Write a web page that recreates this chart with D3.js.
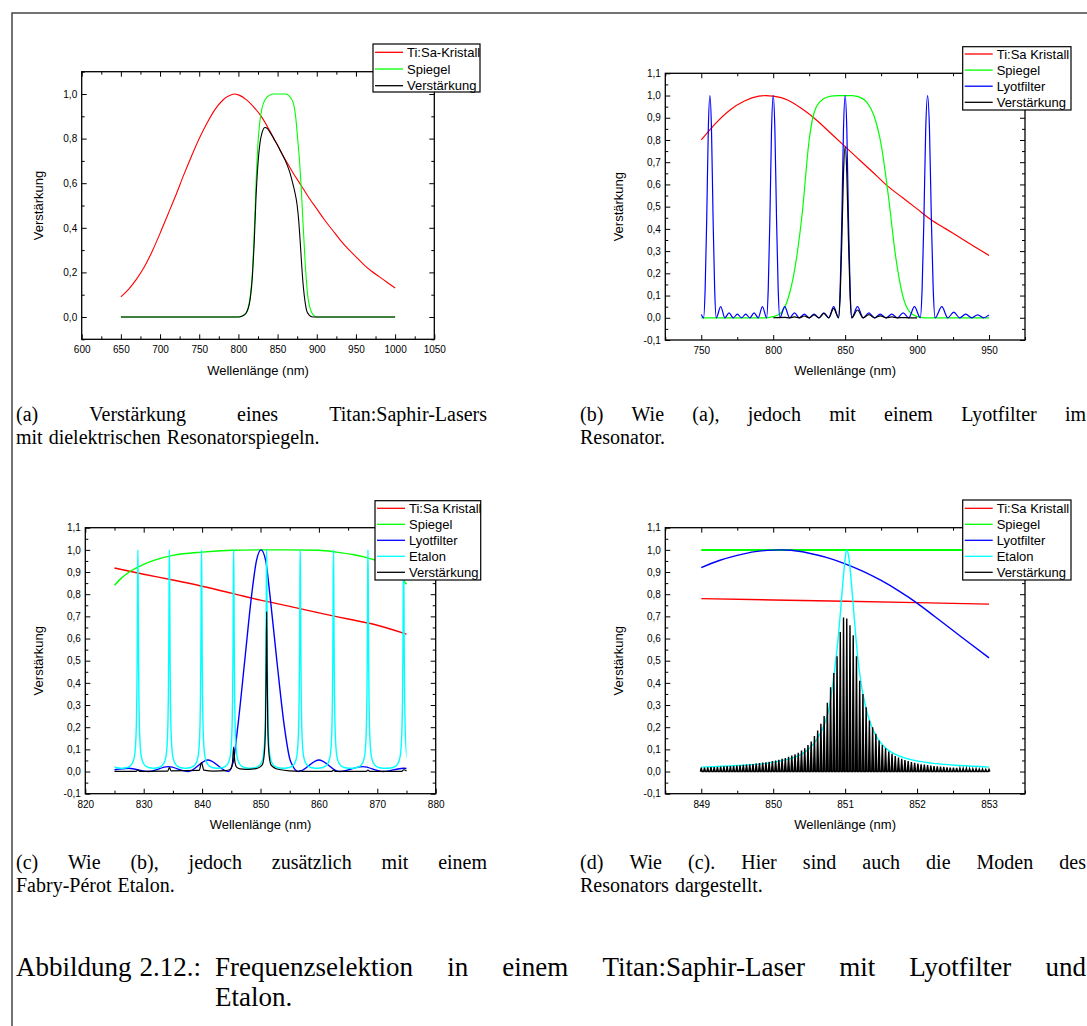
<!DOCTYPE html>
<html>
<head>
<meta charset="utf-8">
<script src="https://cdn.jsdelivr.net/npm/d3@7"></script>
<style>
body { margin: 0; background: #fff; }
svg { display: block; }
.ax text { font-family: "Liberation Sans", Arial, sans-serif; font-size: 10px; fill: #000; }
.ax line { stroke: #000; stroke-width: 1; }
.lab { font-family: "Liberation Sans", Arial, sans-serif; font-size: 13px; fill: #000; }
.leg text { font-family: "Liberation Sans", Arial, sans-serif; font-size: 13px; fill: #000; }
.cap text { font-family: "Liberation Serif", "Times New Roman", serif; fill: #000; }
</style>
</head>
<body>
<svg id="fig"></svg>
<script>
// ---- panel (a): wavelength (nm), value
const aTisa = [[650,.09],[660,.125],[670,.17],[680,.225],[690,.295],[700,.375],[710,.46],[720,.545],[730,.635],[740,.72],[750,.80],[760,.87],[770,.93],[780,.972],[790,.995],[795,1],[800,.996],[810,.975],[820,.94],[830,.895],[840,.835],[850,.77],[860,.705],[870,.645],[880,.59],[890,.535],[900,.485],[910,.435],[920,.39],[930,.345],[940,.305],[950,.27],[960,.235],[970,.205],[980,.18],[990,.155],[1000,.13]]
const aMirror = [[650,0],[800,0],[805,.005],[810,.02],[815,.09],[818,.21],[820,.36],[822.5,.6],[825,.78],[827.5,.88],[830,.935],[835,.98],[840,.995],[845,1],[860,1],[865,.99],[870,.96],[873,.9],[875.6,.8],[878,.7],[880,.59],[882.8,.4],[886,.2],[889,.08],[893.5,.02],[897,.005],[900,0],[1000,0]]
const aGain = [[650,0],[800,0],[805,.004],[810,.018],[815,.08],[818,.19],[820,.32],[822.5,.54],[825,.69],[827.5,.78],[830,.825],[834,.85],[837,.845],[840,.83],[845,.80],[850,.77],[855,.735],[860,.70],[865,.655],[870,.59],[872,.56],[875,.5],[877,.43],[879,.33],[881,.22],[883,.13],[885,.07],[887,.03],[890,.01],[895,0],[1000,0]]

// ---- panel (b)
const bTisa = [[750,.80],[760,.875],[770,.935],[780,.975],[790,.997],[795,1],[800,.997],[810,.98],[820,.94],[830,.89],[840,.83],[850,.77],[860,.71],[870,.65],[880,.59],[890,.54],[900,.49],[910,.44],[920,.40],[930,.36],[940,.32],[950,.28]]
const bMirror = [[750,0],[795,0],[800,.005],[805,.02],[810,.08],[815,.22],[820,.46],[825,.8],[827.5,.9],[830,.95],[835,.985],[840,.997],[845,1],[855,1],[860,.993],[865,.97],[870,.91],[875,.78],[880,.55],[885,.28],[890,.1],[895,.025],[900,.005],[905,0],[950,0]]
const bLyot = [[750,.015],[751.6,0],[752.7,.13],[753.8,.45],[754.9,.85],[756,1],[757.1,.85],[758.2,.45],[759.3,.13],[760.4,0],
  [763.5,.05],[766.4,0],[769.3,.022],[772.2,0],[775.1,.016],[778,0],[780.9,.016],[783.8,0],[786.7,.022],[789.6,0],[792.5,.05],[795.4,0],
  [796.55,.13],[797.7,.45],[798.85,.85],[800,1],[801.15,.85],[802.3,.45],[803.45,.13],[804.6,0],
  [808,.05],[811.4,0],[814.8,.022],[818.2,0],[821.6,.016],[825,0],[828.4,.016],[831.8,0],[835.2,.022],[838.6,0],[842,.05],[845.4,0],
  [846.55,.13],[847.7,.45],[848.85,.85],[850,1],[851.15,.85],[852.3,.45],[853.45,.13],[854.6,0],
  [858.6,.05],[862.5,0],[866.5,.022],[870.5,0],[874.4,.016],[878.4,0],[882.4,.016],[886.3,0],[890.3,.022],[894.2,0],[898.2,.05],[902.2,0],
  [903.5,.13],[904.75,.45],[906,.85],[907.3,1],[908.6,.85],[909.9,.45],[911.2,.13],[912.5,0],
  [917.2,.05],[921.3,0],[925.5,.025],[929.6,0],[933.8,.016],[938,0],[942.1,.013],[946.2,0],[950,.013]]
const bGain = [[800,0],[808,.002],[811.4,0],[814.8,.004],[818.2,0],[821.6,.008],[825,0],[828.4,.013],[831.8,0],[835.2,.02],[838.6,0],[842,.042],[845.4,0],
  [846.55,.1],[847.7,.35],[848.85,.65],[850,.77],[851.15,.65],[852.3,.35],[853.45,.1],[854.6,0],
  [858.6,.035],[862.5,0],[866.5,.014],[870.5,0],[874.4,.009],[878.4,0],[882.4,.004],[886.3,0],[890.3,.001],[894.2,0],[900,0]]

// ---- panel (c)
const cTisa = [[825,.918],[830,.89],[835,.864],[840,.836],[845,.805],[850,.773],[855,.745],[860,.716],[865,.688],[870,.66],[875,.62]]
const cMirror = [[825,.84],[826,.868],[827,.89],[828,.908],[830,.935],[832,.955],[835,.975],[840,.99],[845,.998],[850,1],[855,1],[860,.998],[863,.99],[866,.978],[868,.966],[870,.95],[872,.925],[873.5,.895],[875,.845]]
const cLyot = [[825,.008],[827.4,.015],[830.8,0],[834.2,.022],[837.6,0],[841,.052],[844.5,0],[845.3,.04],[846.1,.2],[847.3,.5],[848.5,.8],[849.3,.95],[850.1,1],[850.9,.95],[851.6,.8],[852.8,.5],[854.1,.2],[855.1,.05],[856.5,0],[860,.052],[863.5,0],[867.5,.022],[871,0],[874.5,.015],[875,.014]]
const cEtalonCentres = [823.4, 829.0, 834.4, 839.9, 845.4, 851.05, 856.8, 862.5, 868.4, 874.5, 880.4]
const cEtalonShape = [[-2.6,.015],[-2,.017],[-1.5,.022],[-1,.035],[-.7,.055],[-.5,.085],[-.35,.14],[-.25,.22],[-.18,.33],[-.12,.5],[-.08,.7],[-.04,.9],[0,1],[.04,.9],[.08,.7],[.12,.5],[.18,.33],[.25,.22],[.35,.14],[.5,.085],[.7,.055],[1,.035],[1.5,.022],[2,.017],[2.6,.015]]
const cGain = [[825,.001],[828.7,.001],[829,.008],[829.3,.001],[834.1,.002],[834.4,.018],[834.7,.003],[839.5,.005],[839.9,.04],[840.3,.006],[842,.002],[844,.004],[844.9,.012],[845.2,.04],[845.4,.11],[845.6,.045],[845.9,.02],[846.5,.012],[847.5,.01],[848.5,.011],[849.5,.015],[850.3,.03],[850.65,.08],[850.85,.2],[850.97,.48],[851.05,.72],[851.13,.48],[851.25,.2],[851.45,.08],[851.8,.03],[852.5,.015],[853.5,.008],[855,.003],[856.5,.001],[856.8,.004],[857.1,.001],[862.2,.001],[862.5,.006],[862.8,.001],[868.1,.001],[868.4,.006],[868.7,.001],[874.2,.001],[874.5,.008],[875,.002]]

// ---- panel (d)
const dTisa = [[849,.78],[850,.774],[851,.768],[852,.762],[853,.755]]
const dMirror = [[849,.999],[853,.999]]
const dLyot = [[849,.92],[849.25,.952],[849.5,.975],[849.75,.992],[850,.999],[850.1,1],[850.25,.998],[850.5,.985],[850.75,.965],[851,.937],[851.25,.903],[851.5,.862],[851.75,.814],[852,.76],[852.25,.698],[852.5,.636],[852.75,.574],[853,.513]]
const dEtalon = [[849,.02],[849.5,.027],[849.9,.037],[850.1,.048],[850.3,.065],[850.45,.09],[850.55,.12],[850.65,.17],[850.72,.22],[850.78,.29],[850.83,.4],[850.88,.53],[850.93,.7],[850.97,.86],[851,.96],[851.02,1],[851.05,.97],[851.09,.84],[851.13,.68],[851.17,.53],[851.22,.4],[851.28,.3],[851.36,.21],[851.45,.15],[851.55,.11],[851.7,.077],[851.9,.055],[852.2,.038],[852.6,.027],[853,.02]]
const dModeFirst = 849.0
const dModeSpacing = 0.04494
const dModeHeights = [.018,.018,.019,.020,.020,.021,.022,.023,.024,.025,.026,.027,.028,.030,.031,.032,.034,.036,.038,.040,.042,.044,.047,.050,.053,.057,.061,.066,.072,.078,.085,.095,.105,.12,.135,.16,.185,.215,.25,.31,.38,.445,.52,.63,.695,
  .69,.66,.615,.52,.41,.35,.29,.23,.2,.17,.14,.12,.105,.09,.08,.07,.063,.057,.052,.047,.043,.039,.036,.033,.031,.029,.027,.025,.023,.022,.021,.019,.018,.017,.016,.015,.014,.014,.013,.012,.012,.011,.011,.010,.010]

// ---- axis ticks
const aXTicks = [600,650,700,750,800,850,900,950,1000,1050]
const aXMinor = [625,675,725,775,825,875,925,975,1025]
const aYTicks = [0,.2,.4,.6,.8,1]
const aYMinor = [-.1,.1,.3,.5,.7,.9,1.1]
const bXTicks = [750,800,850,900,950]
const bXMinor = [725,775,825,875,925,975]
const yTicks11 = [-.1,0,.1,.2,.3,.4,.5,.6,.7,.8,.9,1,1.1]
const yMinor11 = [-.05,.05,.15,.25,.35,.45,.55,.65,.75,.85,.95,1.05]
const cXTicks = [820,830,840,850,860,870,880]
const cXMinor = [825,835,845,855,865,875]
const dXTicks = [849,850,851,852,853]
const dXMinor = [848.5,849.5,850.5,851.5,852.5,853.5]

const names4 = ["Ti:Sa Kristall", "Spiegel", "Lyotfilter", "Verstärkung"]
const names5 = ["Ti:Sa Kristall", "Spiegel", "Lyotfilter", "Etalon", "Verstärkung"]

const captions = {
  a: ["(a) Verstärkung eines Titan:Saphir-Lasers", "mit dielektrischen Resonatorspiegeln."],
  b: ["(b) Wie (a), jedoch mit einem Lyotfilter im", "Resonator."],
  c: ["(c) Wie (b), jedoch zusätzlich mit einem", "Fabry-Pérot Etalon."],
  d: ["(d) Wie (c). Hier sind auch die Moden des", "Resonators dargestellt."]
}
const mainLabel = "Abbildung 2.12.:"
const mainBody = ["Frequenzselektion in einem Titan:Saphir-Laser mit Lyotfilter und", "Etalon."]

const W = 1087, H = 1026
const svg = d3.select("#fig").attr("width", W).attr("height", H)
const loc = d3.formatLocale({decimal: ",", thousands: ".", grouping: [3], currency: ["", ""], minus: "-"})
const f1 = loc.format(".1f")

// page border (top and left rule)
svg.append("path").attr("d", "M12,1026V13H1087").attr("fill", "none").attr("stroke", "#444").attr("stroke-width", 1.5)

function panel(p) {
  const x = d3.scaleLinear().domain(p.xDomain).range([p.left, p.right])
  const y = d3.scaleLinear().domain([-0.1, 1.1]).range([p.bottom, p.top])
  const g = svg.append("g")

  const clipId = "clip" + p.id
  g.append("clipPath").attr("id", clipId).append("rect")
    .attr("x", p.left).attr("y", p.top).attr("width", p.right - p.left).attr("height", p.bottom - p.top)

  const line = d3.line().x(d => x(d[0])).y(d => y(d[1])).curve(d3.curveMonotoneX)
  const plot = g.append("g").attr("clip-path", `url(#${clipId})`)
  p.series.forEach(s => {
    if (!s.data.length) return
    const path = plot.append("path")
      .attr("d", s.curve === "linear" ? d3.line().x(d => x(d[0])).y(d => y(d[1]))(s.data) : line(s.data))
      .attr("fill", "none").attr("stroke", s.color).attr("stroke-width", s.width || p.lw)
      .attr("stroke-linejoin", "round")
    if (s.clip) {
      const cid = clipId + "e"
      g.append("clipPath").attr("id", cid).append("rect")
        .attr("x", x(s.clip[0])).attr("y", p.top).attr("width", x(s.clip[1]) - x(s.clip[0])).attr("height", p.bottom - p.top)
      path.attr("clip-path", `url(#${cid})`)
    }
  })

  // axes with inward ticks
  const bot = d3.axisBottom(x).tickValues(p.xTicks).tickSize(-5).tickPadding(7).tickFormat(d3.format("d"))
  const botMin = d3.axisBottom(x).tickValues(p.xMinor).tickSize(-3).tickFormat("")
  const top = d3.axisTop(x).tickValues(p.xTicks).tickSize(-5).tickFormat("")
  const topMin = d3.axisTop(x).tickValues(p.xMinor).tickSize(-3).tickFormat("")
  const lef = d3.axisLeft(y).tickValues(p.yTicks).tickSize(-5).tickPadding(4.5).tickFormat(f1)
  const lefMin = d3.axisLeft(y).tickValues(p.yMinor).tickSize(-3).tickFormat("")
  const rig = d3.axisRight(y).tickValues(p.yTicks).tickSize(-5).tickFormat("")
  const rigMin = d3.axisRight(y).tickValues(p.yMinor).tickSize(-3).tickFormat("")
  const axes = [[bot, 0, p.bottom], [botMin, 0, p.bottom], [top, 0, p.top], [topMin, 0, p.top],
    [lef, p.left, 0], [lefMin, p.left, 0], [rig, p.right, 0], [rigMin, p.right, 0]]
  axes.forEach(([ax, tx, ty]) => {
    const a = g.append("g").attr("class", "ax").attr("transform", `translate(${tx},${ty})`).call(ax)
    a.select(".domain").remove()
    a.selectAll("text").attr("font-family", null).attr("font-size", null)
  })

  g.append("rect").attr("x", p.left).attr("y", p.top).attr("width", p.right - p.left).attr("height", p.bottom - p.top)
    .attr("fill", "none").attr("stroke", "#000").attr("stroke-width", 1.3)

  g.append("text").attr("class", "lab").attr("x", (p.left + p.right) / 2).attr("y", p.xLabY)
    .attr("text-anchor", "middle").text("Wellenlänge (nm)")
  g.append("text").attr("class", "lab").attr("transform", `translate(${p.yLabX},${(p.top + p.bottom) / 2}) rotate(-90)`)
    .attr("text-anchor", "middle").attr("dy", "0.35em").text("Verstärkung")

  // legend
  const L = p.legend
  const lg = g.append("g").attr("class", "leg")
  lg.append("rect").attr("x", L.x0).attr("y", L.y0).attr("width", L.x1 - L.x0).attr("height", L.y1 - L.y0)
    .attr("fill", "#fff").attr("stroke", "#000").attr("stroke-width", 1.2)
  p.series.forEach((s, i) => {
    const yy = L.row0 + i * L.step
    lg.append("line").attr("x1", L.x0 + 2).attr("x2", L.x0 + 30).attr("y1", yy).attr("y2", yy)
      .attr("stroke", s.color).attr("stroke-width", 1.3)
    lg.append("text").attr("x", L.x0 + 34).attr("y", yy + 4.6).text(s.name)
  })
  return {x, y, plot}
}

panel({
  id: "a", xDomain: [600, 1050], left: 81.7, right: 434.3, top: 71.7, bottom: 339.3, lw: 1.1,
  xTicks: aXTicks, xMinor: aXMinor, yTicks: aYTicks, yMinor: aYMinor, xLabY: 374.5, yLabX: 38,
  legend: {x0: 373, y0: 44, x1: 480, y1: 92, row0: 52.3, step: 16.7},
  series: [
    {name: "Ti:Sa-Kristall", color: "#ff0000", data: aTisa},
    {name: "Spiegel", color: "#00ff00", data: aMirror},
    {name: "Verstärkung", color: "#000000", data: aGain}
  ]
})

panel({
  id: "b", xDomain: [725, 975], left: 665.3, right: 1025, top: 73.3, bottom: 340, lw: 1.2,
  xTicks: bXTicks, xMinor: bXMinor, yTicks: yTicks11, yMinor: yMinor11, xLabY: 374.5, yLabX: 618,
  legend: {x0: 962.7, y0: 46.7, x1: 1071, y1: 110, row0: 54, step: 16.1},
  series: [
    {name: names4[0], color: "#ff0000", data: bTisa},
    {name: names4[1], color: "#00ff00", data: bMirror},
    {name: names4[2], color: "#0000ff", data: bLyot},
    {name: names4[3], color: "#000000", data: bGain}
  ]
})

const cEtalon = cEtalonCentres.flatMap(c => cEtalonShape.map(([o, v]) => [c + o, v]))
panel({
  id: "c", xDomain: [820, 880], left: 85.3, right: 435.7, top: 527.7, bottom: 793.7, lw: 1.4,
  xTicks: cXTicks, xMinor: cXMinor, yTicks: yTicks11, yMinor: yMinor11, xLabY: 828.5, yLabX: 38,
  legend: {x0: 375, y0: 500.7, x1: 480.7, y1: 580, row0: 508.3, step: 16},
  series: [
    {name: names5[0], color: "#ff0000", data: cTisa},
    {name: names5[1], color: "#00ff00", data: cMirror},
    {name: names5[2], color: "#0000ff", data: cLyot},
    {name: names5[3], color: "#00ffff", data: cEtalon, clip: [825, 875]},
    {name: names5[4], color: "#000000", data: cGain, width: 1.2}
  ]
})

const dp = panel({
  id: "d", xDomain: [848.5, 853.5], left: 665.3, right: 1025, top: 527.7, bottom: 793.7, lw: 1.4,
  xTicks: dXTicks, xMinor: dXMinor, yTicks: yTicks11, yMinor: yMinor11, xLabY: 828.5, yLabX: 618,
  legend: {x0: 962.7, y0: 500, x1: 1071, y1: 580, row0: 508.3, step: 16},
  series: [
    {name: names5[0], color: "#ff0000", data: dTisa, curve: "linear"},
    {name: names5[1], color: "#00ff00", data: dMirror, curve: "linear", width: 2},
    {name: names5[2], color: "#0000ff", data: dLyot},
    {name: names5[3], color: "#00ffff", data: dEtalon},
    {name: names5[4], color: "#000000", data: []}
  ]
})

// resonator modes in (d): one narrow spike per mode
const modes = dModeHeights.map((h, i) => ({lambda: dModeFirst + i * dModeSpacing, h}))
const spikePts = modes.flatMap(m => [[m.lambda - 0.012, 0], [m.lambda, m.h], [m.lambda + 0.012, 0]])
dp.plot.append("path")
  .attr("d", d3.line().x(d => dp.x(d[0])).y(d => dp.y(d[1]))(spikePts))
  .attr("fill", "#000").attr("stroke", "#000").attr("stroke-width", 1.4).attr("stroke-linejoin", "miter")

// captions (justified like the LaTeX source)
function capLine(str, x0, x1, yb, size, justify) {
  const g = svg.append("g").attr("class", "cap")
  const words = str.split(" ")
  const nodes = words.map(w => g.append("text").attr("y", yb).style("font-size", size + "px").text(w))
  const widths = nodes.map(n => n.node().getComputedTextLength())
  const gap = justify && words.length > 1 ? (x1 - x0 - d3.sum(widths)) / (words.length - 1) : size * 0.3
  let cx = x0
  nodes.forEach((n, i) => { n.attr("x", cx); cx += widths[i] + gap })
}
const capSize = 20
capLine(captions.a[0], 16, 487, 420.5, capSize, true)
capLine(captions.a[1], 16, 487, 443.5, capSize, false)
capLine(captions.b[0], 580, 1086, 420.5, capSize, true)
capLine(captions.b[1], 580, 1086, 443.5, capSize, false)
capLine(captions.c[0], 16, 487, 868.5, capSize, true)
capLine(captions.c[1], 16, 487, 891.5, capSize, false)
capLine(captions.d[0], 580, 1086, 868.5, capSize, true)
capLine(captions.d[1], 580, 1086, 891.5, capSize, false)
// hanging caption: label, then the body justified in its own column
const mainSize = 27
capLine(mainLabel, 16, 210, 976, mainSize, false)
capLine(mainBody[0], 215, 1086, 976, mainSize, true)
capLine(mainBody[1], 215, 1086, 1006, mainSize, false)
</script>
</body>
</html>
